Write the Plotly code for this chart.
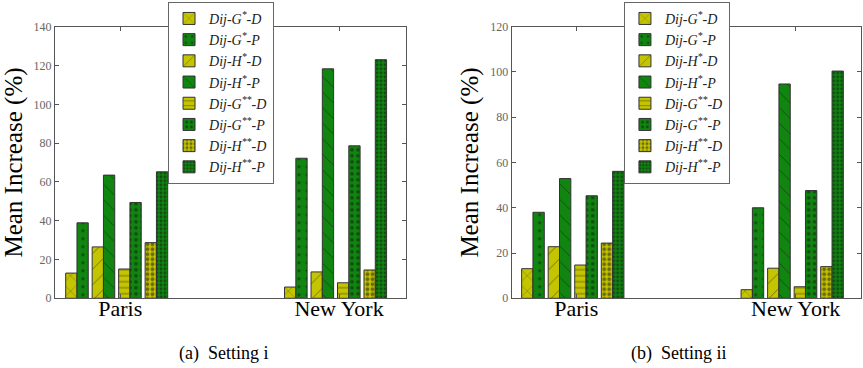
import plotly.graph_objects as go

# ---- data ----
cities = ["Paris", "New York"]
series_labels = [
    "<i>Dij-G<sup>*</sup>-D</i>",
    "<i>Dij-G<sup>*</sup>-P</i>",
    "<i>Dij-H<sup>*</sup>-D</i>",
    "<i>Dij-H<sup>*</sup>-P</i>",
    "<i>Dij-G<sup>**</sup>-D</i>",
    "<i>Dij-G<sup>**</sup>-P</i>",
    "<i>Dij-H<sup>**</sup>-D</i>",
    "<i>Dij-H<sup>**</sup>-P</i>",
]
paris_i = [13.0, 38.9, 26.5, 63.5, 15.1, 49.4, 28.7, 65.2]
newyork_i = [5.8, 72.2, 13.6, 118.3, 8.0, 78.6, 14.6, 123.0]
paris_ii = [13.1, 38.0, 22.8, 52.9, 14.7, 45.3, 24.4, 56.1]
newyork_ii = [3.8, 40.0, 13.3, 94.7, 5.1, 47.6, 14.0, 100.4]
captions = ["(a)&nbsp;&nbsp;Setting i", "(b)&nbsp;&nbsp;Setting ii"]

# ---- styles ----
YEL = "#c4c400"
GRN = "#108510"
colors = [YEL, GRN] * 4
patterns = [
    dict(shape="x", size=11, solidity=0.08),
    dict(shape=".", size=8, solidity=0.12),
    dict(shape="/", size=11, solidity=0.08),
    dict(shape="\\", size=11, solidity=0.08),
    dict(shape="-", size=6, solidity=0.15),
    dict(shape=".", size=6, solidity=0.3),
    dict(shape=".", size=5, solidity=0.45),
    dict(shape=".", size=4, solidity=0.45),
]
SERIF = "Liberation Serif"
bw = 0.0516
pitch = 0.121

fig = go.Figure()
settings = [
    (paris_i, newyork_i, "x", "y", "legend"),
    (paris_ii, newyork_ii, "x2", "y2", "legend2"),
]
for paris, ny, xa, ya, leg in settings:
    for i in range(8):
        off = (i // 2 - 1.5) * pitch + (i % 2 - 0.5) * bw
        fig.add_trace(go.Bar(
            x=[0 + off, 1 + off], y=[paris[i], ny[i]], width=bw,
            name=series_labels[i], legend=leg, xaxis=xa, yaxis=ya,
            marker=dict(color=colors[i], line=dict(color="#333", width=1),
                        pattern=dict(fgcolor="#111", **patterns[i])),
            showlegend=True,
        ))

def xax(domain, rng):
    return dict(domain=domain, range=rng, tickvals=[0.016, 1.016], ticktext=cities,
                tickfont=dict(family=SERIF, size=22, color="black"),
                ticks="inside", ticklen=4, tickcolor="#555", showline=True,
                linecolor="#555", linewidth=1, mirror="ticks", showgrid=False,
                zeroline=False, automargin=False, ticklabelstandoff=-10)

def yax(domain, rng, anchor):
    return dict(domain=domain, range=rng, dtick=20, anchor=anchor,
                tickfont=dict(family=SERIF, size=12, color="#666"),
                ticks="inside", ticklen=4, tickcolor="#555", showline=True,
                linecolor="#555", linewidth=1, mirror="ticks", showgrid=False,
                zeroline=False, automargin=False,
                title=dict(text="Mean Increase (%)", standoff=4,
                           font=dict(family=SERIF, size=25, color="black")))

ydom = [0.1894, 0.9274]
leg_common = dict(xanchor="left", yanchor="top", bordercolor="#666", borderwidth=1,
                  bgcolor="white", font=dict(family=SERIF, size=14, color="#222"),
                  tracegroupgap=0, itemwidth=30)
fig.update_layout(
    width=863, height=368, margin=dict(l=0, r=0, t=0, b=0),
    paper_bgcolor="white", plot_bgcolor="white", barmode="overlay",
    font=dict(family=SERIF),
    xaxis=xax([0.0637, 0.4705], [-0.282, 1.322]),
    yaxis=yax(ydom, [0, 140], "x"),
    xaxis2=xax([0.5929, 0.9973], [-0.2785, 1.312]) | dict(anchor="y2"),
    yaxis2=yax(ydom, [0, 120], "x2"),
    legend=dict(x=0.1947, y=0.995, **leg_common),
    legend2=dict(x=0.723, y=0.995, **leg_common),
    annotations=[
        dict(text=captions[0], x=224 / 863, y=15 / 368, xref="paper", yref="paper",
             xanchor="center", yanchor="middle", showarrow=False,
             font=dict(family=SERIF, size=18, color="black")),
        dict(text=captions[1], x=679 / 863, y=15 / 368, xref="paper", yref="paper",
             xanchor="center", yanchor="middle", showarrow=False,
             font=dict(family=SERIF, size=18, color="black")),
    ],
)
fig.write_html("out.html")
